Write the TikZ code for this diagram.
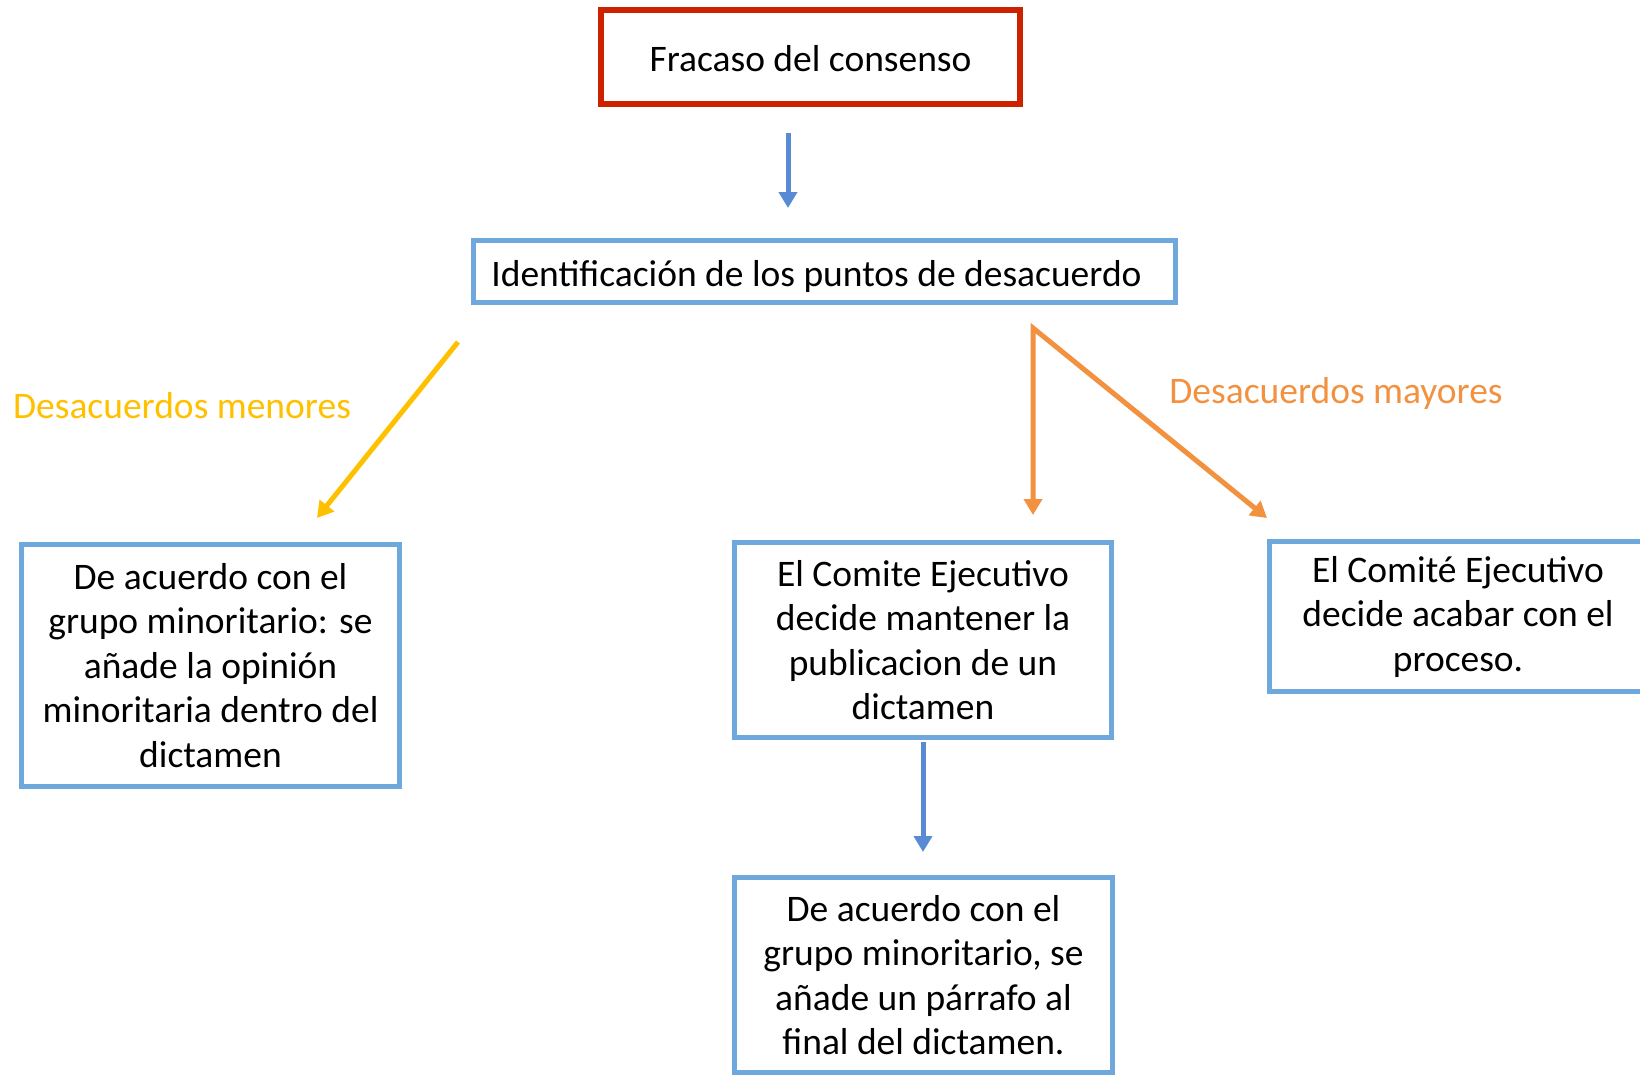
\documentclass[tikz,border=0pt]{standalone}
\usepackage{fontspec}
\setmainfont{Carlito}
\usetikzlibrary{arrows.meta}
\definecolor{redbox}{RGB}{204,34,0}
\definecolor{bluebox}{RGB}{111,168,220}
\definecolor{bluearrow}{RGB}{88,139,212}
\definecolor{yellowc}{RGB}{255,192,0}
\definecolor{orangec}{RGB}{242,146,64}
\tikzset{
  box/.style={draw=bluebox, line width=5pt, align=center, inner sep=0pt,
    font=\fontsize{37.5}{44.5}\selectfont, text=black},
  redframe/.style={draw=redbox, line width=6pt, inner sep=0pt,
    font=\fontsize{37.5}{44.5}\selectfont},
  tip/.style={-{Triangle[length=16pt,width=18pt]}},
  bluearr/.style={tip, draw=bluearrow, line width=5pt},
  yelarr/.style={tip, draw=yellowc, line width=5pt},
  orarr/.style={{Triangle[length=16pt,width=18pt]}-{Triangle[length=16pt,width=18pt]}, draw=orangec, line width=5pt, line join=miter},
  lbl/.style={font=\fontsize{37.5}{44.5}\selectfont, inner sep=0pt}
}
\begin{document}
\begin{tikzpicture}[x=1pt,y=-1pt]
\clip (0,0) rectangle (1640,1074);
\fill[white] (0,0) rectangle (1640,1074);

\node[redframe, minimum width=419pt, minimum height=94pt] (fracaso) at (810.5,57) {\raisebox{-1.5pt}[\height][\depth]{Fracaso del consenso}};
\node[box, minimum width=702pt, minimum height=62pt] (ident) at (824.5,271.5) {\raisebox{-5pt}[\height][\depth]{Identificación de los puntos de desacuerdo}\hspace{16pt}};
\node[box, minimum width=378pt, minimum height=242pt] (menor) at (210.5,665.5)
  {De acuerdo con el\\grupo minoritario: se\\añade la opinión\\minoritaria dentro del\\dictamen};
\node[box, minimum width=377pt, minimum height=195pt] (mantener) at (923,640)
  {El Comite Ejecutivo\\decide mantener la\\publicacion de un\\dictamen};
\node[box, minimum width=377pt, minimum height=150pt] (acabar) at (1458,616.5)
  {El Comité Ejecutivo\\decide acabar con el\\proceso.};
\node[box, minimum width=378pt, minimum height=195pt] (parrafo) at (923.5,975)
  {De acuerdo con el\\grupo minoritario, se\\añade un párrafo al\\final del dictamen.};

\node[lbl, text=yellowc] (lmen) at (182,406) {Desacuerdos menores};
\node[lbl, text=orangec] (lmay) at (1336,393) {Desacuerdos mayores};

\coordinate (a1s) at (788,133);
\coordinate (a1e) at (788,208);
\coordinate (ys) at (458,342);
\coordinate (ye) at (317,518);
\coordinate (oc) at (1033,328);
\coordinate (ov) at (1033,515);
\coordinate (od) at (1267,518);
\coordinate (a2s) at (923,742);
\coordinate (a2e) at (923,852);

\draw[bluearr] (a1s) -- (a1e);
\draw[yelarr] (ys) -- (ye);
\draw[orarr] (ov) -- (oc) -- (od);
\draw[bluearr] (a2s) -- (a2e);
\end{tikzpicture}
\end{document}
